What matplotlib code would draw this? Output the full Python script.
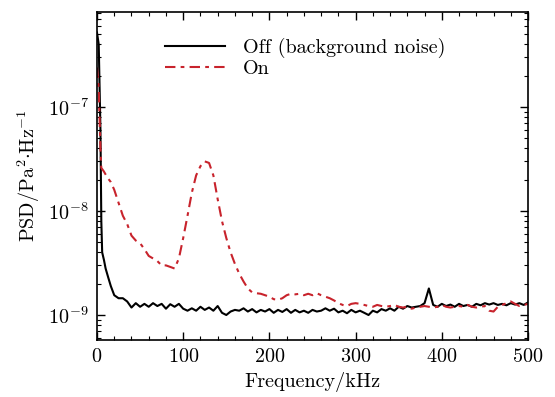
import numpy as np
import matplotlib
matplotlib.use("Agg")
import matplotlib.pyplot as plt
from matplotlib.ticker import MultipleLocator, LogLocator, NullFormatter

plt.rcParams['font.family'] = 'serif'
plt.rcParams['font.serif'] = ['cmr10', 'DejaVu Serif']
plt.rcParams['mathtext.fontset'] = 'cm'
plt.rcParams['axes.unicode_minus'] = False
plt.rcParams['axes.formatter.use_mathtext'] = True

# ---- data (PSD in units of 1e-9 Pa^2/Hz) ----
off_freq_head = [0, 2, 4, 5, 6, 8, 10, 13, 16, 20, 25, 30, 35]
off_psd_head = [520, 400, 60, 8, 4.0, 3.4, 2.8, 2.3, 1.9, 1.55, 1.45, 1.45, 1.35]
off_freq_tail = list(range(40, 505, 5))
off_psd_tail = [1.18, 1.3, 1.2, 1.28, 1.2, 1.3, 1.22, 1.28, 1.15, 1.27,
                1.2, 1.28, 1.15, 1.1, 1.16, 1.1, 1.2, 1.12, 1.18, 1.1,
                1.22, 1.05, 1.0, 1.08, 1.12, 1.1, 1.16, 1.08, 1.14, 1.06,
                1.12, 1.08, 1.14, 1.05, 1.12, 1.07, 1.14, 1.05, 1.12, 1.06,
                1.1, 1.05, 1.12, 1.08, 1.1, 1.16, 1.1, 1.15, 1.06, 1.1,
                1.04, 1.12, 1.06, 1.1, 1.05, 1.0, 1.1, 1.06, 1.14, 1.1,
                1.16, 1.1, 1.2, 1.15, 1.22, 1.18, 1.2, 1.22, 1.3, 1.8,
                1.25, 1.2, 1.28, 1.22, 1.26, 1.2, 1.28, 1.22, 1.25, 1.2,
                1.28, 1.24, 1.3, 1.26, 1.3, 1.25, 1.28, 1.24, 1.3, 1.26,
                1.3, 1.25, 1.32]

on_freq_head = [0, 2, 4, 5, 8, 12, 16, 20, 25, 30, 35]
on_psd_head = [240, 150, 40, 26, 24, 21, 19, 16, 12, 9, 7.5]
on_freq_tail = list(range(40, 505, 5))
on_psd_tail = [5.8, 5.2, 4.9, 4.3, 3.7, 3.5, 3.3, 3.0, 3.0, 2.9,
               2.8, 3.5, 5.5, 9, 15, 22, 27, 30, 29, 22,
               13, 8, 5.5, 4, 3.1, 2.5, 2.1, 1.8, 1.65, 1.62,
               1.6, 1.55, 1.5, 1.42, 1.4, 1.45, 1.55, 1.6, 1.58, 1.6,
               1.55, 1.6, 1.55, 1.62, 1.55, 1.5, 1.45, 1.38, 1.3, 1.25,
               1.22, 1.28, 1.3, 1.28, 1.25, 1.22, 1.2, 1.25, 1.22, 1.2,
               1.22, 1.25, 1.2, 1.18, 1.2, 1.15, 1.18, 1.2, 1.22, 1.2,
               1.18, 1.2, 1.25, 1.2, 1.18, 1.2, 1.22, 1.2, 1.25, 1.2,
               1.18, 1.2, 1.22, 1.1, 1.08, 1.2, 1.25, 1.3, 1.35, 1.28,
               1.22, 1.25, 1.28]

off_freq = np.array(off_freq_head + off_freq_tail, dtype=float)
off_psd = np.array(off_psd_head + off_psd_tail) * 1e-9
on_freq = np.array(on_freq_head + on_freq_tail, dtype=float)
on_psd = np.array(on_psd_head + on_psd_tail) * 1e-9

FS = 14.5

fig = plt.figure(figsize=(5.55, 3.97), dpi=100)
ax = fig.add_axes([97/555, 1 - 340/397, (528-97)/555, (340-12)/397])

ax.plot(off_freq, off_psd, color='black', lw=1.5, label='Off (background noise)')
ax.plot(on_freq, on_psd, color='#c8232c', lw=1.5, dashes=(5, 2.5, 1.8, 2.5), label='On')

ax.set_yscale('log')
ax.set_xlim(0, 500)
ax.set_ylim(5.75e-10, 8.2e-7)
ax.xaxis.set_major_locator(MultipleLocator(100))
ax.xaxis.set_minor_locator(MultipleLocator(20))
ax.yaxis.set_major_locator(LogLocator(base=10, numticks=10))
ax.yaxis.set_minor_locator(LogLocator(base=10, subs=np.arange(2, 10), numticks=20))
ax.yaxis.set_minor_formatter(NullFormatter())
ax.tick_params(which='both', direction='in', top=True, right=True, labelsize=FS)
ax.tick_params(which='major', length=6, width=1, pad=6)
ax.tick_params(which='minor', length=3, width=0.8)
for s in ax.spines.values():
    s.set_linewidth(1.2)

ax.set_xlabel('Frequency/kHz', fontsize=FS, labelpad=4)
ax.set_ylabel(r'$\mathrm{PSD/Pa^2{\cdot}Hz^{-1}}$', fontsize=FS, labelpad=4)

ax.legend(loc='upper left', bbox_to_anchor=(0.115, 0.975), frameon=False, fontsize=FS,
          handlelength=3.0, handletextpad=0.9, labelspacing=0.05)

fig.savefig('out.png', dpi=100)
